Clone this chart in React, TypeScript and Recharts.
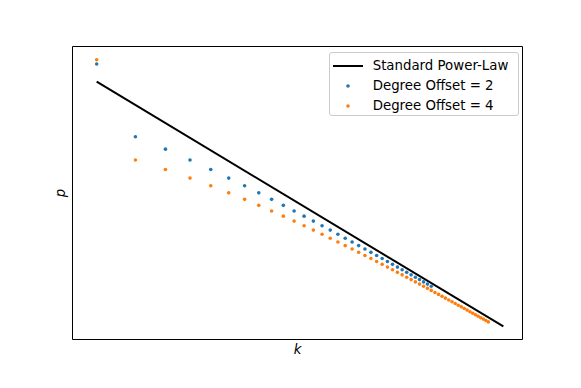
import { ScatterChart, Scatter, XAxis, YAxis, ReferenceArea } from 'recharts';

// degree k and probability p
const blueDegrees = [3, 4, 5, 6, 7, 8, 9, 10, 11, 12, 13, 14, 15, 16, 17, 18, 19, 20, 21, 22, 23, 24, 25, 26, 27, 28, 29, 30, 31, 32, 33, 34, 35, 36];
const blueP = [
  0.0713, 0.004838, 0.003047, 0.002041, 0.001433, 0.001045, 0.0007851, 0.0006047, 0.0004756, 0.0003808,
  0.0003096, 0.0002551, 0.0002127, 0.0001792, 0.0001524, 0.0001306, 0.0001128, 0.00009814, 0.00008589,
  0.00007559, 0.00006688, 0.00005946, 0.00005309, 0.0000476, 0.00004285, 0.0000387, 0.00003508,
  0.00003189, 0.00002908, 0.00002659, 0.00002437, 0.0000224, 0.00002063, 0.00001904,
];

const orangeDegrees = [
  3, 4, 5, 6, 7, 8, 9, 10, 11, 12, 13, 14, 15, 16, 17, 18, 19, 20, 21, 22, 23, 24, 25, 26, 27, 28, 29,
  30, 31, 32, 33, 34, 35, 36, 37, 38, 39, 40, 41, 42, 43, 44, 45, 46, 47, 48, 49, 50, 51, 52, 53, 54, 55,
];
const orangeP = [
  0.0836, 0.002041, 0.001433, 0.001045, 0.0007851, 0.0006047, 0.0004756, 0.0003808, 0.0003096, 0.0002551,
  0.0002127, 0.0001792, 0.0001524, 0.0001306, 0.0001128, 0.00009814, 0.00008589, 0.00007559, 0.00006688,
  0.00005946, 0.00005309, 0.0000476, 0.00004285, 0.0000387, 0.00003508, 0.00003189, 0.00002908,
  0.00002659, 0.00002437, 0.0000224, 0.00002063, 0.00001904, 0.00001762, 0.00001633, 0.00001516,
  0.0000141, 0.00001314, 0.00001227, 0.00001147, 0.00001074, 0.00001007, 0.000009449, 0.000008882,
  0.00000836, 0.000007878, 0.000007432, 0.000007019, 0.000006636, 0.000006281, 0.000005951,
  0.000005643, 0.000005356, 0.000005088,
];

// reference power-law line endpoints
const lineDegrees = [3, 61.5];
const lineP = [0.03704, 0.0000043];

const xDomain: [number, number] = [2.507, 70.9];
const yDomain: [number, number] = [2.654e-6, 0.1363];

const font = '"DejaVu Sans", sans-serif';
const BLUE = '#1f77b4';
const ORANGE = '#ff7f0e';

const blueData = blueDegrees.map((k, i) => ({ k, p: blueP[i] }));
const orangeData = orangeDegrees.map((k, i) => ({ k, p: orangeP[i] }));
const lineData = lineDegrees.map((k, i) => ({ k, p: lineP[i] }));

const dot = (color: string) => (props: any) =>
  <circle cx={props.cx} cy={props.cy} r={1.8} fill={color} />;

const legendRows = [
  { label: 'Standard Power-Law', kind: 'line', color: '#000' },
  { label: 'Degree Offset = 2', kind: 'dot', color: BLUE },
  { label: 'Degree Offset = 4', kind: 'dot', color: ORANGE },
];

export default function App() {
  return (
    <div style={{ position: 'relative', width: 565, height: 372, fontFamily: font }}>
      <ScatterChart
        width={565}
        height={372}
        margin={{ top: 38.5, right: 50.5, bottom: 20.5, left: 40.1 }}
      >
        <XAxis
          type="number"
          dataKey="k"
          scale="log"
          domain={xDomain}
          allowDataOverflow
          tick={false}
          tickLine={false}
          axisLine={false}
          height={20}
          label={{
            value: 'k',
            position: 'insideBottom',
            offset: 5.5,
            style: { fontFamily: font, fontSize: 13.33, fontStyle: 'italic', fill: '#000' },
          }}
        />
        <YAxis
          type="number"
          dataKey="p"
          scale="log"
          domain={yDomain}
          allowDataOverflow
          tick={false}
          tickLine={false}
          axisLine={false}
          width={24.4}
          label={{
            value: 'p',
            angle: -90,
            position: 'center',
            style: { fontFamily: font, fontSize: 13.33, fontStyle: 'italic', fill: '#000' },
          }}
        />
        <Scatter
          data={lineData}
          line={{ stroke: '#000', strokeWidth: 2 }}
          shape={() => <g />}
          isAnimationActive={false}
        />
        <Scatter data={blueData} shape={dot(BLUE)} isAnimationActive={false} />
        <Scatter data={orangeData} shape={dot(ORANGE)} isAnimationActive={false} />
        <ReferenceArea
          x1={xDomain[0]}
          x2={xDomain[1]}
          y1={yDomain[0]}
          y2={yDomain[1]}
          fill="none"
          stroke="#000"
          strokeWidth={1}
          ifOverflow="visible"
        />
      </ScatterChart>
      <div
        style={{
          position: 'absolute',
          left: 321.3,
          top: 43.5,
          width: 190,
          height: 64,
          boxSizing: 'border-box',
          border: '1px solid #cccccc',
          borderRadius: 3,
          background: 'rgba(255,255,255,0.8)',
          paddingTop: 3.2,
          fontSize: 13.33,
        }}
      >
        {legendRows.map((row) => (
          <div key={row.label} style={{ display: 'flex', alignItems: 'center', height: 20 }}>
            <svg width={42.4} height={20} style={{ flexShrink: 0 }}>
              {row.kind === 'line' ? (
                <line x1={3} x2={33} y1={10} y2={10} stroke={row.color} strokeWidth={2} />
              ) : (
                <circle cx={18} cy={10} r={1.8} fill={row.color} />
              )}
            </svg>
            <span style={{ whiteSpace: 'nowrap', lineHeight: '20px' }}>{row.label}</span>
          </div>
        ))}
      </div>
    </div>
  );
}
